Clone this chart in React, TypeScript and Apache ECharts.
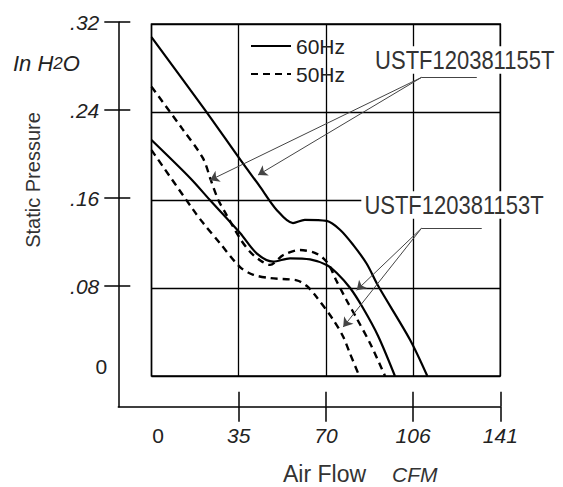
import React, { useEffect, useRef } from "react";
import * as echarts from "echarts";

const xTickValues = [0, 35.25, 70.5, 105.75, 141];
const xTickLabels = ["0", "35", "70", "106", "141"];
const xTickMarks = [35.25, 70.5, 105.75, 141];
const yTickValues = [0, 0.08, 0.16, 0.24, 0.32];
const yTickLabels = ["0", ".08", ".16", ".24", ".32"];
const yTickMarks = [0.08, 0.16, 0.24, 0.32];

const legendNames = ["60Hz", "50Hz"];
const modelNames = ["USTF120381155T", "USTF120381153T"];

// [CFM, inH2O]
const curve155T60 = [
  [0, 0.308], [21.6, 0.242], [36.1, 0.196], [43.9, 0.172], [50.6, 0.151],
  [57.2, 0.139], [62, 0.142], [70.8, 0.141], [76.2, 0.133], [81.6, 0.119],
  [87.0, 0.102], [91.6, 0.082], [104.5, 0.033], [111.5, 0],
];
const curve155T50 = [
  [0, 0.263], [12.7, 0.224], [20.8, 0.198], [24.0, 0.178], [27.0, 0.16],
  [29.7, 0.149], [35.8, 0.125], [39.8, 0.113], [44, 0.105], [47.9, 0.101],
  [53.3, 0.11], [60.0, 0.1145], [66, 0.112], [69.5, 0.107], [72, 0.1],
  [74.6, 0.0873], [78.8, 0.0691], [83.1, 0.0518], [88.7, 0.0282], [94.4, 0],
];
const curve153T60 = [
  [0, 0.2145], [15.6, 0.18], [23.6, 0.16], [35.8, 0.13], [42.5, 0.1115],
  [49.2, 0.104], [56.0, 0.107], [64.1, 0.106], [70.8, 0.101], [74.9, 0.0936],
  [80.3, 0.08], [85.5, 0.0618], [91.6, 0.0364], [98.4, 0],
];
const curve153T50 = [
  [0, 0.2054], [16.9, 0.151], [20.9, 0.139], [27.7, 0.1206], [35.8, 0.099],
  [41.2, 0.092], [47.9, 0.089], [58.7, 0.087], [62.7, 0.082], [66.1, 0.0736],
  [73.5, 0.051], [77.5, 0.0357], [80.2, 0.0206], [84.0, 0],
];

const leader155Knee = [109.2, 0.2715];
const leader155End = [131.5, 0.2715];
const leader155Tips = [[23.65, 0.178], [43.05, 0.1827]];
const leader153Knee = [109.15, 0.1343];
const leader153End = [133.5, 0.1343];
const leader153Tips = [[82.95, 0.078], [77.5, 0.0445]];

const FONT = "Liberation Sans";
const TXT = "#222";

function leaderLines(knee: number[], end: number[], tips: number[][]) {
  const lines: any[] = [
    [
      { coord: knee, symbol: "none" },
      { coord: end, symbol: "none" },
    ],
  ];
  tips.forEach((t) => {
    lines.push([
      { coord: knee, symbol: "none" },
      { coord: t, symbol: "arrow" },
    ]);
  });
  return {
    silent: true,
    symbol: ["none", "arrow"],
    symbolSize: 9,
    label: { show: false },
    emphasis: { disabled: true },
    lineStyle: { color: "#444", width: 1, type: "solid" },
    data: lines,
  };
}

export default function App() {
  const ref = useRef<HTMLDivElement>(null);
  useEffect(() => {
    if (!ref.current) return;
    const chart = echarts.init(ref.current, undefined, { renderer: "svg" });
    const solid = { color: "#000", width: 2.2, type: "solid" as const };
    const dashed = { color: "#000", width: 2.4, type: [7, 5] as any };
    const xFmt = (v: number) => {
      const i = xTickValues.findIndex((t) => Math.abs(t - v) < 1e-6);
      if (i < 0) return "";
      return i === 0 ? `{n|${xTickLabels[i]}}` : `{i|${xTickLabels[i]}}`;
    };
    const yFmt = (v: number) => {
      const i = yTickValues.findIndex((t) => Math.abs(t - v) < 1e-6);
      if (i < 0) return "";
      return i === 0 ? `{n|${yTickLabels[i]}}` : `{i|${yTickLabels[i]}}`;
    };
    const tickLine = { color: "#000", width: 1.5 };
    const curveSeries = (data: number[][], name: string, style: any, extra: any = {}) => ({
      type: "line",
      name,
      xAxisIndex: 0,
      yAxisIndex: 0,
      data,
      smooth: 0.3,
      symbol: "none",
      lineStyle: style,
      itemStyle: { color: "#000" },
      silent: true,
      z: 3,
      ...extra,
    });
    const option: any = {
      animation: false,
      backgroundColor: "#fff",
      textStyle: { fontFamily: FONT },
      grid: [
        {
          left: 151.5,
          top: 24,
          width: 348.8,
          height: 352,
          show: true,
          borderColor: "#000",
          borderWidth: 1.5,
          backgroundColor: "transparent",
        },
        { left: 118.3, top: 22, width: 382, height: 384.7, show: false },
      ],
      legend: {
        data: legendNames,
        orient: "vertical",
        left: 245,
        top: 30,
        itemWidth: 40,
        itemHeight: 14,
        itemGap: 6,
        selectedMode: false,
        itemStyle: { opacity: 0 },
        textStyle: { fontSize: 21, lineHeight: 22, color: TXT, fontFamily: FONT },
      },
      xAxis: [
        {
          gridIndex: 0,
          type: "value",
          min: 0,
          max: 141,
          interval: 35.25,
          axisLine: { show: false, onZero: false },
          axisTick: { show: false },
          axisLabel: { show: false },
          splitLine: { show: true, lineStyle: { color: "#000", width: 1.3 } },
        },
        {
          gridIndex: 1,
          type: "value",
          min: -13.42,
          max: 141,
          position: "bottom",
          axisLine: { show: true, onZero: false, lineStyle: tickLine },
          axisTick: { show: true, inside: false, length: 15, customValues: xTickMarks, lineStyle: tickLine },
          axisLabel: {
            show: true,
            customValues: xTickValues,
            formatter: xFmt,
            margin: 18,
            color: TXT,
            rich: {
              n: { fontSize: 21, color: TXT, fontFamily: FONT, padding: [0, 0, 0, 13] },
              i: { fontSize: 21, color: TXT, fontFamily: FONT, fontStyle: "italic" },
            },
          },
          splitLine: { show: false },
        },
        {
          gridIndex: 1,
          type: "value",
          min: -13.42,
          max: 141,
          position: "bottom",
          axisLine: { show: false, onZero: false },
          axisTick: { show: true, inside: true, length: 15, customValues: xTickMarks, lineStyle: tickLine },
          axisLabel: { show: false },
          splitLine: { show: false },
        },
      ],
      yAxis: [
        {
          gridIndex: 0,
          type: "value",
          min: 0,
          max: 0.32,
          interval: 0.08,
          axisLine: { show: false, onZero: false },
          axisTick: { show: false },
          axisLabel: { show: false },
          splitLine: { show: true, lineStyle: { color: "#000", width: 1.3 } },
        },
        {
          gridIndex: 1,
          type: "value",
          min: -0.0297,
          max: 0.32,
          position: "left",
          axisLine: { show: true, onZero: false, lineStyle: tickLine },
          axisTick: { show: true, inside: false, length: 14, customValues: yTickMarks, lineStyle: tickLine },
          axisLabel: {
            show: true,
            customValues: yTickValues,
            formatter: yFmt,
            margin: 11,
            color: TXT,
            rich: {
              n: { fontSize: 21, color: TXT, fontFamily: FONT, padding: [0, 0, 16, 0] },
              i: { fontSize: 21, color: TXT, fontFamily: FONT, fontStyle: "italic", padding: [0, 8, 0, 0] },
            },
          },
          splitLine: { show: false },
        },
        {
          gridIndex: 1,
          type: "value",
          min: -0.0297,
          max: 0.32,
          position: "left",
          axisLine: { show: false, onZero: false },
          axisTick: { show: true, inside: true, length: 12, customValues: yTickMarks, lineStyle: tickLine },
          axisLabel: { show: false },
          splitLine: { show: false },
        },
      ],
      series: [
        curveSeries(curve155T60, legendNames[0], solid, {
          markLine: leaderLines(leader155Knee, leader155End, leader155Tips),
        }),
        curveSeries(curve155T50, legendNames[1], dashed),
        curveSeries(curve153T60, legendNames[0], solid, {
          markLine: leaderLines(leader153Knee, leader153End, leader153Tips),
        }),
        curveSeries(curve153T50, legendNames[1], dashed),
      ],
      graphic: [
        {
          type: "text",
          x: 33,
          y: 180,
          rotation: Math.PI / 2,
          silent: true,
          style: {
            text: "Static Pressure",
            fontSize: 20,
            fontFamily: FONT,
            fill: "#333",
            align: "center",
            verticalAlign: "middle",
          },
        },
        {
          type: "text",
          x: 13,
          y: 63,
          silent: true,
          style: {
            text: "{a|In H}{b|2}{a|O}",
            fill: TXT,
            verticalAlign: "middle",
            rich: {
              a: { fontSize: 22, fontStyle: "italic", fontFamily: FONT, fill: TXT },
              b: { fontSize: 17, fontStyle: "italic", fontFamily: FONT, fill: TXT },
            },
          },
        },
        {
          type: "text",
          x: 283,
          y: 474,
          silent: true,
          style: {
            text: "Air Flow",
            fontSize: 23,
            fontFamily: FONT,
            fill: "#333",
            verticalAlign: "middle",
          },
        },
        {
          type: "text",
          x: 392,
          y: 474,
          silent: true,
          style: {
            text: "CFM",
            fontSize: 21,
            fontStyle: "italic",
            fontFamily: FONT,
            fill: "#333",
            verticalAlign: "middle",
          },
        },
        {
          type: "text",
          x: 464.7,
          y: 60,
          z: 100,
          scaleY: 1.15,
          silent: true,
          style: {
            text: modelNames[0],
            fontSize: 22,
            lineHeight: 22,
            fontFamily: FONT,
            fill: "#333",
            align: "center",
            verticalAlign: "middle",
            backgroundColor: "#fff",
            padding: [1, 3],
          },
        },
        {
          type: "text",
          x: 454,
          y: 205,
          z: 100,
          scaleY: 1.15,
          silent: true,
          style: {
            text: modelNames[1],
            fontSize: 22,
            lineHeight: 22,
            fontFamily: FONT,
            fill: "#333",
            align: "center",
            verticalAlign: "middle",
            backgroundColor: "#fff",
            padding: [1, 3],
          },
        },
      ],
    };
    chart.setOption(option);
    return () => chart.dispose();
  }, []);
  return (
    <div
      ref={ref}
      style={{ position: "absolute", left: 0, top: 0, width: 563, height: 487, background: "#fff" }}
    />
  );
}
